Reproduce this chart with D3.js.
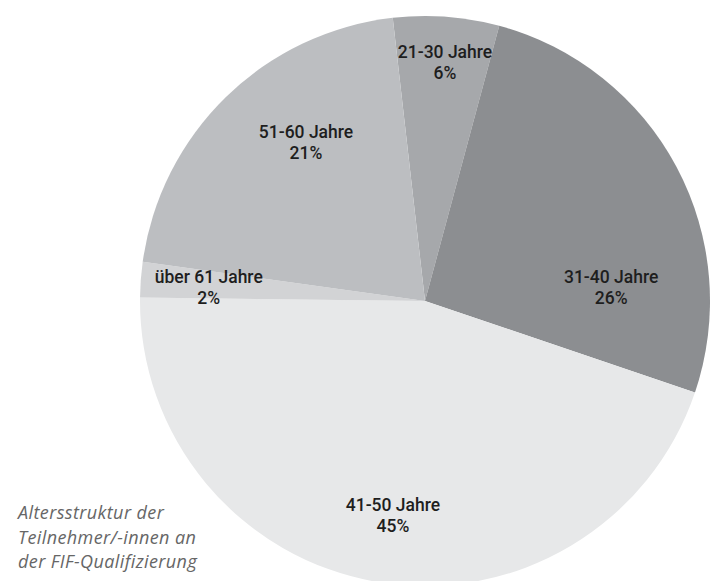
<!DOCTYPE html>
<html>
<head>
<meta charset="utf-8">
<script src="https://cdn.jsdelivr.net/npm/d3@7"></script>
<style>
  body { margin: 0; background: #fff; }
  svg { display: block; }
  .slice-label { font-family: Roboto, 'Noto Sans', sans-serif; font-weight: 500; font-size: 17.5px; fill: #1e1e1e; }
  .caption { font-family: 'Open Sans', sans-serif; font-style: italic; font-size: 18px; letter-spacing: 0.4px; fill: #666; }
</style>
</head>
<body>
<svg></svg>
<script>
// data (clockwise, starting at the top)
let categories = ['21-30 Jahre', '31-40 Jahre', '41-50 Jahre', 'über 61 Jahre', '51-60 Jahre']
let shares = [6, 26, 45, 2, 21]
let colours = ['#a6a8ab', '#8c8e91', '#e7e8e9', '#d2d3d5', '#bcbec1']
let captionLines = ['Altersstruktur der', 'Teilnehmer/-innen an', 'der FIF-Qualifizierung']

// label placement: [angle in degrees, distance from centre]
let labelPlacement = [[4.7, 244], [84.5, 187], [188.7, 212], [274.8, 217], [323.9, 202]]

// canvas
let width = 710
let height = 581
let cx = 425
let cy = 301
let radius = 285
let startAngle = -6.5 * Math.PI / 180

let svg = d3.select('svg')
    .attr('width', width)
    .attr('height', height)

let values = categories.map((c, i) => ({ name: c, share: shares[i], colour: colours[i] }))

let pie = d3.pie()
    .sort(null)
    .value((d) => d.share)
    .startAngle(startAngle)
    .endAngle(startAngle + 2 * Math.PI)

let arc = d3.arc()
    .innerRadius(0)
    .outerRadius(radius)

let g = svg.append('g')
    .attr('transform', 'translate(' + cx + ',' + cy + ')')

// slices
g.selectAll('path')
    .data(pie(values))
    .enter()
    .append('path')
    .attr('d', arc)
    .attr('fill', (d) => d.data.colour)

// labels
let labels = g.selectAll('text.slice-label')
    .data(pie(values))
    .enter()
    .append('text')
    .attr('class', 'slice-label')
    .attr('text-anchor', 'middle')
    .attr('transform', (d, i) => {
        let p = d3.pointRadial(labelPlacement[i][0] * Math.PI / 180, labelPlacement[i][1])
        return 'translate(' + p[0] + ',' + p[1] + ')'
    })

labels.append('tspan')
    .attr('x', 0)
    .attr('y', 0)
    .text((d) => d.data.name)

labels.append('tspan')
    .attr('x', 0)
    .attr('y', 21)
    .text((d) => d.data.share + '%')

// caption
svg.append('text')
    .attr('class', 'caption')
    .selectAll('tspan')
    .data(captionLines)
    .enter()
    .append('tspan')
    .attr('x', 18)
    .attr('y', (d, i) => 519 + i * 24.5)
    .text((d) => d)
</script>
</body>
</html>
